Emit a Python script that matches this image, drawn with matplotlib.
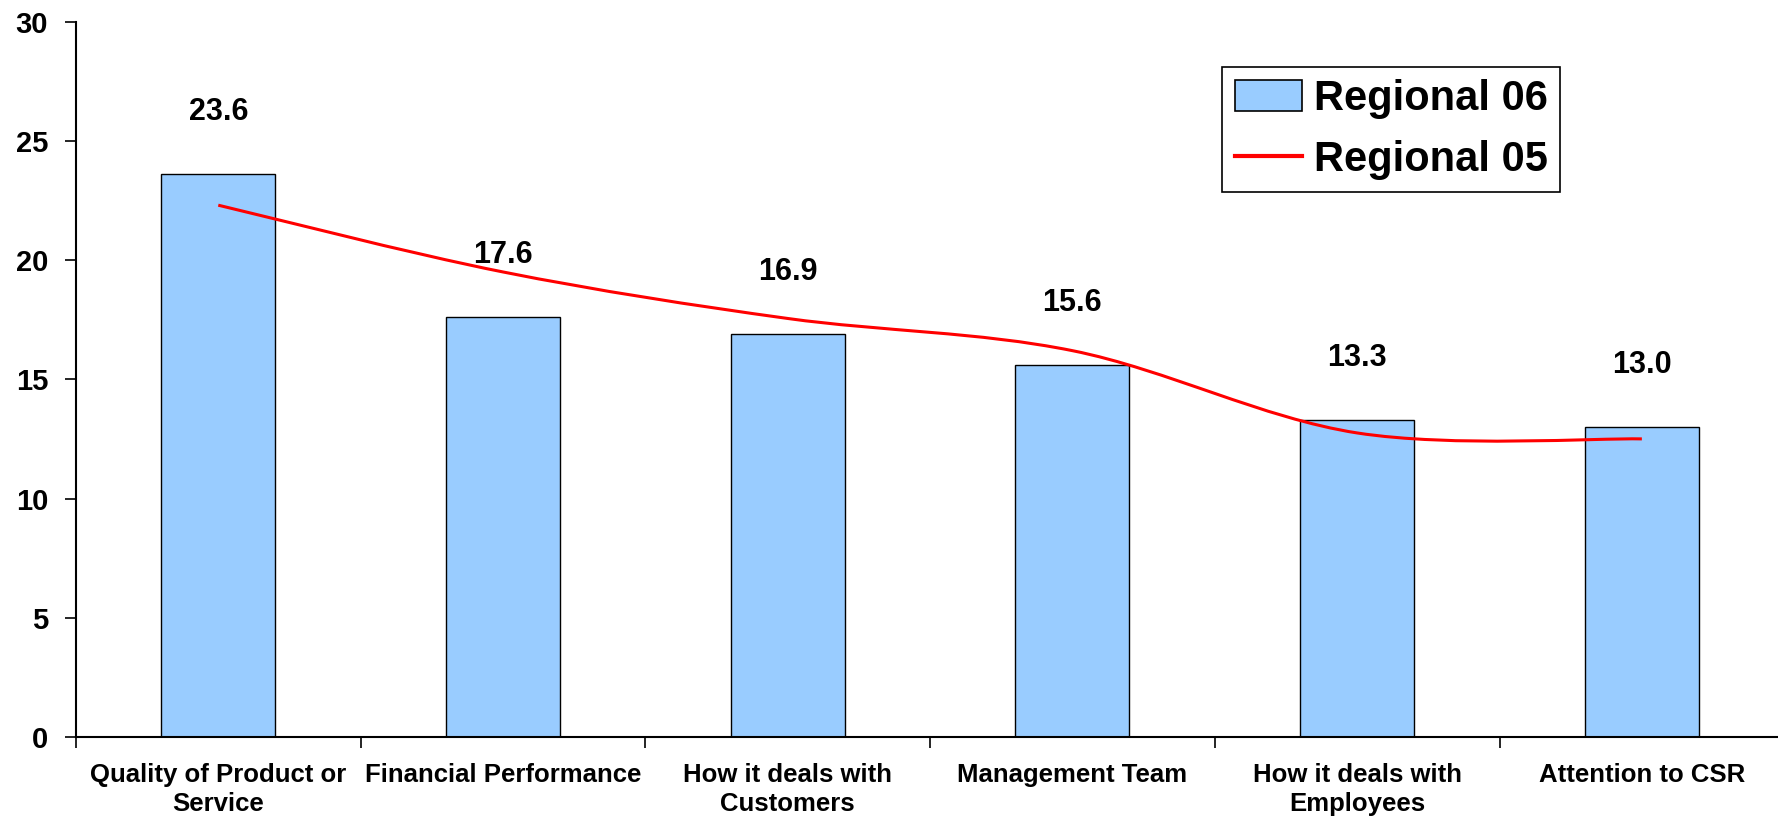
import matplotlib

matplotlib.use("Agg")
import matplotlib.pyplot as plt  # noqa: E402
from matplotlib.path import Path  # noqa: E402
from matplotlib.patches import PathPatch  # noqa: E402
from matplotlib.lines import Line2D  # noqa: E402
from matplotlib.patches import Patch  # noqa: E402

categories = [
    "Quality of Product or\nService",
    "Financial Performance",
    "How it deals with\nCustomers",
    "Management Team",
    "How it deals with\nEmployees",
    "Attention to CSR",
]
regional_06 = [23.6, 17.6, 16.9, 15.6, 13.3, 13.0]
regional_05 = [22.3, 19.5, 17.55, 16.2, 12.75, 12.5]

BAR_COLOR = "#99CCFF"
LINE_COLOR = "#FF0000"

plt.rcParams.update({
    "font.family": ["Liberation Sans", "DejaVu Sans"],
    "font.weight": "bold",
})


def smooth_path(xs, ys):
    """Excel-style smoothed line: Catmull-Rom segments as cubic Beziers."""
    pts = list(zip(xs, ys))
    verts = [pts[0]]
    codes = [Path.MOVETO]
    n = len(pts)
    for i in range(n - 1):
        p0 = pts[i - 1] if i > 0 else pts[i]
        p1, p2 = pts[i], pts[i + 1]
        p3 = pts[i + 2] if i + 2 < n else pts[i + 1]
        c1 = (p1[0] + (p2[0] - p0[0]) / 6, p1[1] + (p2[1] - p0[1]) / 6)
        c2 = (p2[0] - (p3[0] - p1[0]) / 6, p2[1] - (p3[1] - p1[1]) / 6)
        verts += [c1, c2, p2]
        codes += [Path.CURVE4] * 3
    return Path(verts, codes)


fig = plt.figure(figsize=(17.78, 8.19), dpi=100)
ax = fig.add_axes([0.0427, 0.1001, 0.9608, 0.8736])

x = list(range(len(categories)))
ax.bar(x, regional_06, width=0.4, color=BAR_COLOR, edgecolor="black",
       linewidth=1.0, zorder=2)
ax.add_patch(PathPatch(smooth_path(x, regional_05), facecolor="none",
                       edgecolor=LINE_COLOR, linewidth=2.2, zorder=3))

for xi, v in zip(x, regional_06):
    ax.text(xi, v + 2.6, f"{v:.1f}", ha="center", va="center",
            fontsize=22, fontweight="bold")

ax.set_xlim(-0.5, len(categories) - 0.5)
ax.set_ylim(0, 30)
ax.set_yticks(range(0, 31, 5))
ax.set_xticks(x)
ax.set_xticklabels(categories, fontsize=18.5, fontweight="bold",
                   linespacing=1.25)
ax.set_xticks([i - 0.5 for i in range(len(categories) + 1)], minor=True)
ax.tick_params(axis="x", which="major", length=0, pad=19)
ax.tick_params(axis="x", which="minor", length=8, width=1.2, direction="out")
ax.tick_params(axis="y", labelsize=21, length=8, width=1.2, pad=12)
for lab in ax.get_yticklabels():
    lab.set_fontweight("bold")

for side in ("top", "right"):
    ax.spines[side].set_visible(False)
for side in ("left", "bottom"):
    ax.spines[side].set_linewidth(1.5)

handles = [
    Patch(facecolor=BAR_COLOR, edgecolor="black", linewidth=1.2),
    Line2D([], [], color=LINE_COLOR, linewidth=3.0),
]
leg = ax.legend(handles, ["Regional 06", "Regional 05"], loc="upper right",
                bbox_to_anchor=(0.869, 0.937), borderaxespad=0, fontsize=30,
                fancybox=False, edgecolor="black", framealpha=1,
                handlelength=1.6, handleheight=0.75, handletextpad=0.3,
                borderpad=0.3, labelspacing=0.5)
leg.get_frame().set_linewidth(1.2)
for t in leg.get_texts():
    t.set_fontweight("bold")

fig.savefig("out.png", dpi=100)
